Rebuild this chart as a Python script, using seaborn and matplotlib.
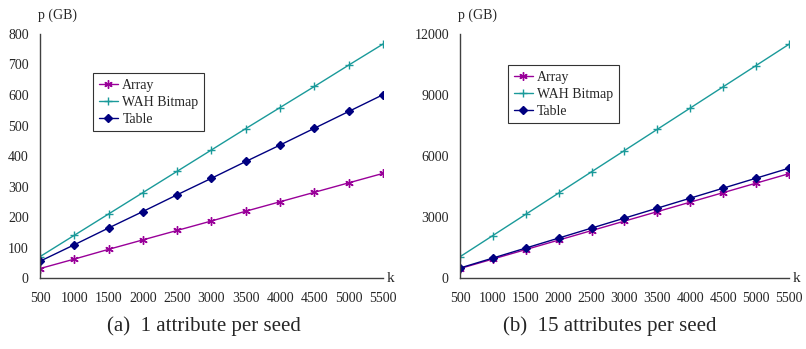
import matplotlib
matplotlib.use("Agg")
import matplotlib.pyplot as plt
import seaborn as sns
import pandas as pd

k = [500, 1000, 1500, 2000, 2500, 3000, 3500, 4000, 4500, 5000, 5500]
series = ["Array", "WAH Bitmap", "Table"]

# (a) 1 attribute per seed
a_array = [31, 62, 94, 125, 156, 187, 219, 250, 281, 312, 343]
a_wah = [70, 140, 210, 280, 350, 420, 490, 559, 628, 698, 767]
a_table = [55, 109, 164, 218, 273, 327, 382, 436, 491, 546, 601]

# (b) 15 attributes per seed
b_array = [466, 933, 1399, 1866, 2332, 2799, 3265, 3732, 4198, 4665, 5131]
b_wah = [1045, 2090, 3135, 4180, 5225, 6270, 7315, 8360, 9405, 10450, 11495]
b_table = [491, 982, 1473, 1964, 2455, 2945, 3436, 3927, 4418, 4909, 5400]

a_yticks = [0, 100, 200, 300, 400, 500, 600, 700, 800]
b_yticks = [0, 3000, 6000, 9000, 12000]
captions = ["(a)  1 attribute per seed", "(b)  15 attributes per seed"]

sns.set_theme(style="white")
plt.rcParams["font.family"] = ["Liberation Serif", "DejaVu Serif"]

colors = {"Array": "#990099", "WAH Bitmap": "#1a9a9a", "Table": "#000080"}
markers = {"Array": (6, 2, 0), "WAH Bitmap": "+", "Table": "D"}
msizes = {"Array": 6, "WAH Bitmap": 6, "Table": 4}

fig = plt.figure(figsize=(8.06, 3.49), dpi=100)
ax1 = fig.add_axes([0.0496, 0.2034, 0.4256, 0.6992])
ax2 = fig.add_axes([0.5707, 0.2034, 0.4082, 0.6992])

def make_df(arr, wah, tab):
    rows = []
    for s, vals in zip(series, [arr, wah, tab]):
        for kk, v in zip(k, vals):
            rows.append({"k": kk, "p": v, "series": s})
    return pd.DataFrame(rows)

panels = [
    (ax1, make_df(a_array, a_wah, a_table), a_yticks, (0.155, 0.84)),
    (ax2, make_df(b_array, b_wah, b_table), b_yticks, (0.146, 0.873)),
]

for i, (ax, df, yt, legpos) in enumerate(panels):
    for s in series:
        sub = df[df["series"] == s]
        sns.lineplot(data=sub, x="k", y="p", ax=ax, color=colors[s],
                     marker=markers[s], markersize=msizes[s], linewidth=1.0,
                     markeredgecolor=colors[s], markerfacecolor=colors[s],
                     markeredgewidth=1.0, label=s)
    ax.set_xlim(k[0], k[-1])
    ax.set_ylim(yt[0], yt[-1])
    ax.set_xticks(k)
    ax.set_yticks(yt)
    ax.set_xlabel("")
    ax.set_ylabel("")
    for sp in ["top", "right"]:
        ax.spines[sp].set_visible(False)
    for sp in ["left", "bottom"]:
        ax.spines[sp].set_color("#404040")
        ax.spines[sp].set_linewidth(1.0)
    ax.tick_params(axis="y", direction="out", length=4, width=1, color="#404040",
                   labelsize=10, pad=4)
    ax.tick_params(axis="x", direction="in", length=4, width=1, color="#404040",
                   labelsize=10, pad=10)
    ax.text(-0.005, 1.05, "p (GB)", transform=ax.transAxes, ha="left", va="bottom",
            fontsize=10)
    ax.text(1.012, 0.0, "k", transform=ax.transAxes, ha="left", va="center",
            fontsize=11)
    leg = ax.legend(loc="upper left", bbox_to_anchor=legpos, frameon=True,
                    fancybox=False, fontsize=10, handlelength=1.4,
                    handletextpad=0.3, borderpad=0.4, labelspacing=0.3,
                    borderaxespad=0)
    leg.get_frame().set_edgecolor("black")
    leg.get_frame().set_linewidth(0.8)
    ax.grid(False)

fig.text(0.253, 0.066, captions[0], ha="center", va="center", fontsize=15)
fig.text(0.757, 0.066, captions[1], ha="center", va="center", fontsize=15)

fig.savefig("out.png", dpi=100)
